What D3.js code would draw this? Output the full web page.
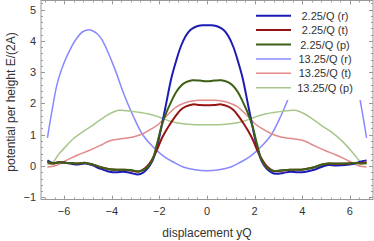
<!DOCTYPE html>
<html>
<head>
<meta charset="utf-8">
<script src="https://cdn.jsdelivr.net/npm/d3@7"></script>
<style>
  body { margin: 0; background: #fff; }
  text { font-family: "Liberation Sans", Arial, sans-serif; fill: #333; }
</style>
</head>
<body>
<div id="chart"></div>
<script>
// series data: [displacement, potential]
var r225 = [[-6.7,0.18],[-6.5,0.1],[-6.2,0.12],[-5.9,0.1],[-5.5,0.05],[-5.1,0.08],[-4.8,0.02],[-4.5,-0.08],[-4.1,-0.18],[-3.8,-0.2],[-3.5,-0.18],[-3.2,-0.22],[-2.9,-0.27],[-2.7,-0.22],[-2.5,-0.08],
  [-2.3,0.15],[-2.1,0.6],[-1.9,1.3],[-1.7,2.05],[-1.5,2.8],[-1.3,3.35],[-1.1,3.82],[-0.9,4.15],[-0.7,4.35],[-0.45,4.46],[-0.2,4.5],[0,4.5],
  [0.2,4.5],[0.45,4.46],[0.7,4.35],[0.9,4.15],[1.1,3.82],[1.3,3.35],[1.5,2.8],[1.7,2.05],[1.9,1.3],[2.1,0.6],[2.3,0.15],
  [2.5,-0.08],[2.7,-0.2],[2.9,-0.25],[3.2,-0.22],[3.5,-0.18],[3.8,-0.2],[4.1,-0.19],[4.5,-0.12],[4.8,-0.03],[5.1,0.03],[5.4,0.02],[5.8,0.03],[6.1,0.06],[6.4,0.13],[6.7,0.18]];
var t225 = [[-6.7,0.12],[-6.5,0.08],[-6.2,0.12],[-5.9,0.1],[-5.5,0.08],[-5.1,0.1],[-4.8,0.05],[-4.5,-0.03],[-4.1,-0.1],[-3.8,-0.12],[-3.5,-0.12],[-3.2,-0.14],[-2.9,-0.18],[-2.7,-0.12],
  [-2.5,0.0],[-2.3,0.22],[-2.1,0.52],[-1.9,0.88],[-1.7,1.16],[-1.5,1.4],[-1.3,1.62],[-1.1,1.8],[-0.9,1.9],[-0.6,1.97],[-0.3,1.95],[0,1.94],
  [0.3,1.95],[0.6,1.97],[0.9,1.9],[1.1,1.8],[1.3,1.62],[1.5,1.4],[1.7,1.16],[1.9,0.88],[2.1,0.52],[2.3,0.22],[2.5,0.0],
  [2.7,-0.12],[2.9,-0.17],[3.2,-0.14],[3.5,-0.12],[3.8,-0.12],[4.1,-0.1],[4.5,-0.04],[4.8,0.04],[5.1,0.08],[5.5,0.07],[5.9,0.08],[6.2,0.1],[6.5,0.09],[6.7,0.12]];
var p225 = [[-6.7,0.15],[-6.5,0.08],[-6.2,0.12],[-5.9,0.1],[-5.5,0.08],[-5.1,0.1],[-4.8,0.05],[-4.5,-0.03],[-4.1,-0.1],[-3.8,-0.12],[-3.5,-0.12],[-3.2,-0.13],[-2.9,-0.17],[-2.7,-0.14],[-2.5,-0.04],
  [-2.3,0.18],[-2.1,0.7],[-1.9,1.3],[-1.7,1.72],[-1.5,2.06],[-1.3,2.36],[-1.1,2.56],[-0.9,2.67],[-0.6,2.74],[-0.3,2.73],[0,2.71],
  [0.3,2.73],[0.6,2.74],[0.9,2.67],[1.1,2.56],[1.3,2.36],[1.5,2.06],[1.7,1.72],[1.9,1.3],[2.1,0.7],[2.3,0.18],[2.5,-0.04],
  [2.7,-0.14],[2.9,-0.16],[3.2,-0.13],[3.5,-0.12],[3.8,-0.12],[4.1,-0.1],[4.5,-0.04],[4.8,0.04],[5.1,0.08],[5.5,0.08],[5.9,0.08],[6.2,0.1],[6.5,0.08],[6.7,0.1]];
var r1325 = [[-6.7,0.9],[-6.5,1.8],[-6.3,2.6],[-6.1,3.1],[-5.9,3.48],[-5.5,4.05],[-5.2,4.3],[-4.9,4.35],[-4.6,4.22],[-4.4,4.02],[-3.9,3.16],[-3.5,2.32],[-3.1,1.6],[-2.7,1.0],
  [-2.3,0.64],[-1.8,0.3],[-1.4,0.12],[-1.0,-0.03],[-0.5,-0.12],[0,-0.15],[0.5,-0.12],[1.0,-0.03],[1.4,0.12],[1.8,0.3],[2.3,0.64],
  [2.7,1.0],[3.1,1.6],[3.5,2.32],[3.9,3.16],[4.4,4.02],[4.6,4.22],[4.9,4.35],[5.2,4.3],[5.5,4.05],[5.9,3.48],[6.1,3.1],[6.3,2.6],[6.5,1.8],[6.7,0.9]];
var t1325 = [[-6.7,-0.03],[-6.4,0.0],[-6.1,0.1],[-5.8,0.22],[-5.4,0.36],[-5.0,0.48],[-4.5,0.65],[-4.1,0.8],[-3.6,0.87],[-3.1,0.93],[-2.7,1.03],[-2.3,1.2],[-2.0,1.36],
  [-1.7,1.6],[-1.3,1.88],[-1.0,2.0],[-0.7,2.07],[-0.35,2.1],[0,2.1],[0.35,2.1],[0.7,2.07],[1.0,2.0],[1.3,1.88],[1.7,1.6],
  [2.0,1.36],[2.3,1.2],[2.7,1.03],[3.1,0.93],[3.6,0.87],[4.1,0.8],[4.5,0.65],[5.0,0.48],[5.4,0.36],[5.8,0.22],[6.1,0.1],[6.4,0.0],[6.7,-0.03]];
var p1325 = [[-6.7,0.05],[-6.5,0.1],[-6.2,0.4],[-5.9,0.65],[-5.6,0.88],[-5.2,1.1],[-4.8,1.3],[-4.2,1.62],[-3.7,1.78],[-3.2,1.75],[-2.5,1.67],[-2.0,1.56],
  [-1.5,1.42],[-1.0,1.35],[-0.5,1.32],[0,1.32],[0.5,1.32],[1.0,1.35],[1.5,1.42],
  [2.0,1.56],[2.5,1.67],[3.2,1.75],[3.7,1.78],[4.2,1.62],[4.8,1.3],[5.2,1.1],[5.6,0.85],[5.9,0.62],[6.2,0.35],[6.5,0.1],[6.7,0.05]];

var seriesNames = ["2.25/Q (r)", "2.25/Q (t)", "2.25/Q (p)", "13.25/Q (r)", "13.25/Q (t)", "13.25/Q (p)"];
var seriesData = [r225, t225, p225, r1325, t1325, p1325];
var colors = ["#1c1cb4", "#971414", "#3b6016", "#8888ff", "#e48a8a", "#a8c68c"];
var widths = [2, 2, 2, 1.5, 1.5, 1.5];

var xTicks = [-6, -4, -2, 0, 2, 4, 6];
var yTicks = [-1, 0, 1, 2, 3, 4, 5];

var W = 374, H = 241;
var plotL = 41, plotR = 373, plotT = 0.5, plotB = 199.5;

var svg = d3.select("#chart").append("svg")
    .attr("width", W).attr("height", H);

var x = d3.scaleLinear().domain([-6.97, 6.97]).range([plotL, plotR]);
var y = d3.scaleLinear().domain([-1.07, 5.29]).range([plotB, plotT]);

svg.append("clipPath").attr("id", "clip")
  .append("rect").attr("x", plotL).attr("y", plotT)
    .attr("width", plotR - plotL).attr("height", plotB - plotT);

var line = d3.line()
    .x(function(d) { return x(d[0]); })
    .y(function(d) { return y(d[1]); })
    .curve(d3.curveCatmullRom.alpha(0.5));

// draw light ones first so the dark ones sit on top
var order = [3, 4, 5, 0, 1, 2];
var g = svg.append("g").attr("clip-path", "url(#clip)");
order.forEach(function(i) {
  g.append("path")
    .datum(seriesData[i])
    .attr("d", line)
    .attr("fill", "none")
    .attr("stroke", colors[i])
    .attr("stroke-width", widths[i])
    .attr("stroke-linejoin", "round");
});

// legend (white box hides what runs behind it)
var legend = svg.append("g");
legend.append("rect")
  .attr("x", 248).attr("y", 2).attr("width", 116).attr("height", 98)
  .attr("fill", "#fff");
seriesNames.forEach(function(name, i) {
  var ly = 15.7 + 14.4 * i;
  legend.append("line")
    .attr("x1", 256).attr("x2", 291).attr("y1", ly).attr("y2", ly)
    .attr("stroke", colors[i]).attr("stroke-width", widths[i]);
  legend.append("text")
    .attr("x", 325).attr("y", ly + 4)
    .attr("text-anchor", "middle")
    .attr("font-size", 11)
    .text(name);
});

// frame with inward ticks on all sides
var frameColor = "#999";
svg.append("rect")
  .attr("x", plotL).attr("y", plotT).attr("width", plotR - plotL).attr("height", plotB - plotT)
  .attr("fill", "none").attr("stroke", frameColor).attr("stroke-width", 1);

var xMinor = d3.range(-6.8, 7, 0.4).map(function(v) { return Math.round(v * 10) / 10; });
var yMinor = d3.range(-1, 5.3, 0.2).map(function(v) { return Math.round(v * 10) / 10; });

function tickLines(vals, len, horiz) {
  vals.forEach(function(v) {
    if (horiz) {
      var px = Math.round(x(v)) + 0.5;
      svg.append("line").attr("x1", px).attr("x2", px).attr("y1", plotB).attr("y2", plotB - len)
        .attr("stroke", frameColor);
      svg.append("line").attr("x1", px).attr("x2", px).attr("y1", plotT).attr("y2", plotT + len)
        .attr("stroke", frameColor);
    } else {
      var py = Math.round(y(v)) + 0.5;
      svg.append("line").attr("x1", plotL).attr("x2", plotL + len).attr("y1", py).attr("y2", py)
        .attr("stroke", frameColor);
      svg.append("line").attr("x1", plotR).attr("x2", plotR - len).attr("y1", py).attr("y2", py)
        .attr("stroke", frameColor);
    }
  });
}
tickLines(xMinor, 2, true);
tickLines(xTicks, 4, true);
tickLines(yMinor, 2, false);
tickLines(yTicks, 4, false);

xTicks.forEach(function(v) {
  svg.append("text")
    .attr("x", x(v)).attr("y", 215)
    .attr("text-anchor", "middle").attr("font-size", 11)
    .text(v < 0 ? "\u2212" + (-v) : v);
});
yTicks.forEach(function(v) {
  svg.append("text")
    .attr("x", 36).attr("y", y(v) + 4)
    .attr("text-anchor", "end").attr("font-size", 11)
    .text(v < 0 ? "\u2212" + (-v) : v);
});

svg.append("text")
  .attr("x", 207).attr("y", 237)
  .attr("text-anchor", "middle").attr("font-size", 12)
  .text("displacement yQ");
svg.append("text")
  .attr("transform", "translate(15,102) rotate(-90)")
  .attr("text-anchor", "middle").attr("font-size", 12)
  .text("potential per height E/(2A)");
</script>
</body>
</html>
